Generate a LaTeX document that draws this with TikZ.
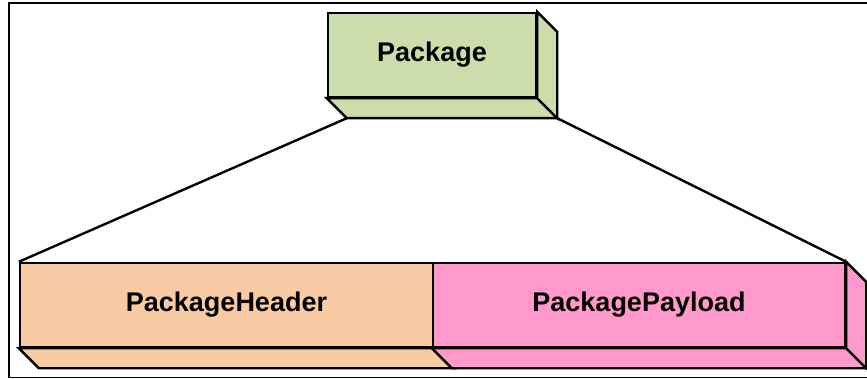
\documentclass[tikz,border=0pt]{standalone}
\usepackage{fontspec}
\setmainfont{Liberation Sans}

\definecolor{pkggreen}{HTML}{CCDCAA}
\definecolor{hdrpeach}{HTML}{F9CBA5}
\definecolor{paypink}{HTML}{FF99CC}

\tikzset{
    blockface/.style={draw, line width=1.2pt, inner sep=0pt, minimum height=42pt,
        font=\fontsize{13.5}{16}\selectfont\bfseries},
    sideface/.style={draw, line width=1.2pt, line join=miter},
    deep/.style={shift={(20,20)}},
}

\begin{document}
\begin{tikzpicture}[x=0.5pt,y=-0.5pt]
    \useasboundingbox (0,0) rectangle (867,379);
    % frame
    \draw[line width=1.3pt] (867,3) -- (9,3) -- (9,377.5);
    \draw[line width=0.6pt] (9,377.5) -- (867,377.5);

    \node[blockface, fill=pkggreen, minimum width=104pt] (pkg) at (432,55) {Package};
    \node[blockface, fill=hdrpeach, minimum width=206.5pt] (hdr) at (226.5,305) {PackageHeader};
    \node[blockface, fill=paypink, minimum width=206pt] (pay) at (639,305) {PackagePayload};

    % depth faces
    \filldraw[sideface, fill=pkggreen] (pkg.south west) -- ([deep]pkg.south west) -- ([deep]pkg.south east) -- (pkg.south east) -- cycle;
    \filldraw[sideface, fill=pkggreen] (pkg.north east) -- ([deep]pkg.north east) -- ([deep]pkg.south east) -- (pkg.south east) -- cycle;
    \filldraw[sideface, fill=hdrpeach] (hdr.south west) -- ([deep]hdr.south west) -- ([deep]hdr.south east) -- (hdr.south east) -- cycle;
    \filldraw[sideface, fill=paypink] (pay.south west) -- ([deep]pay.south west) -- ([deep]pay.south east) -- (pay.south east) -- cycle;
    \filldraw[sideface, fill=paypink] (pay.north east) -- ([deep]pay.north east) -- ([deep]pay.south east) -- (pay.south east) -- cycle;

    \coordinate (pkgleft) at ([deep]pkg.south west);
    \coordinate (pkgright) at ([deep]pkg.south east);
    \draw[line width=1.2pt] (pkgleft) -- (hdr.north west);
    \draw[line width=1.2pt] (pkgright) -- (pay.north east);
\end{tikzpicture}
\end{document}
